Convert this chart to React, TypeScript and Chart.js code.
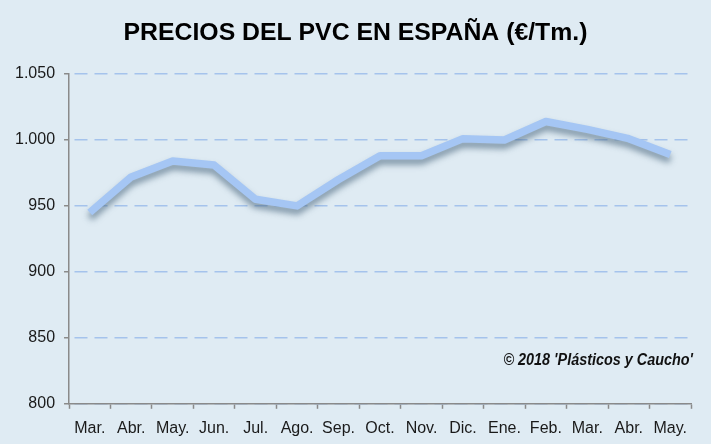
import React, { useEffect, useRef } from "react";
import Chart from "chart.js/auto";

// monthly PVC prices, Mar. 2017 - May. 2018 (€/Tm.)
const months = ["Mar.", "Abr.", "May.", "Jun.", "Jul.", "Ago.", "Sep.", "Oct.", "Nov.", "Dic.", "Ene.", "Feb.", "Mar.", "Abr.", "May."];
const prices = [945, 972, 984, 981, 955, 950, 970, 988, 988, 1001, 1000, 1014, 1008, 1001, 989];
const yTicks = [800, 850, 900, 950, 1000, 1050];

const fmt = (v: number) => v.toLocaleString("de-DE");

const shadowPlugin = {
    id: "lineShadow",
    beforeDatasetDraw(chart: any) {
        const ctx = chart.ctx;
        ctx.save();
        ctx.shadowColor = "rgba(60, 90, 115, 0.6)";
        ctx.shadowBlur = 6;
        ctx.shadowOffsetX = 0;
        ctx.shadowOffsetY = 5;
    },
    afterDatasetDraw(chart: any) {
        chart.ctx.restore();
    }
};

// title and credit line drawn by hand so they sit where the original has them
const textPlugin = {
    id: "texts",
    afterDraw(chart: any) {
        const ctx = chart.ctx;
        const area = chart.chartArea;
        ctx.save();
        ctx.fillStyle = "#000";
        ctx.textAlign = "center";
        ctx.textBaseline = "middle";
        ctx.font = "bold 24.8px 'Liberation Sans', Arial, sans-serif";
        ctx.fillText("PRECIOS DEL PVC EN ESPAÑA (€/Tm.)", chart.width / 2, 33);
        ctx.restore();

        const y = chart.scales.y.getPixelForValue(833);
        ctx.save();
        // condensed look: squeeze horizontally
        ctx.translate(area.right + 2, y);
        ctx.scale(0.9, 1);
        ctx.font = "italic bold 16px 'Liberation Sans', Arial, sans-serif";
        ctx.fillStyle = "#111";
        ctx.textAlign = "right";
        ctx.textBaseline = "middle";
        ctx.fillText("© 2018 'Plásticos y Caucho'", 0, 0);
        ctx.restore();
    }
};

const App = () => {
    const canvasRef = useRef<HTMLCanvasElement | null>(null);

    useEffect(() => {
        document.body.style.margin = "0";
        if (!canvasRef.current) return;
        const chart = new Chart(canvasRef.current, {
            type: "line",
            data: {
                labels: months,
                datasets: [
                    {
                        data: prices,
                        borderColor: "#a5c6f4",
                        borderWidth: 7.5,
                        pointRadius: 0,
                        tension: 0,
                        borderJoinStyle: "round",
                        fill: false
                    }
                ]
            },
            options: {
                animation: false,
                responsive: true,
                maintainAspectRatio: false,
                layout: { padding: { top: 74, right: 20, bottom: -4, left: 6 } },
                plugins: {
                    legend: { display: false },
                    tooltip: { enabled: false },
                    title: { display: false }
                },
                scales: {
                    x: {
                        offset: true,
                        grid: {
                            offset: true,
                            drawOnChartArea: false,
                            drawTicks: true,
                            tickLength: 5,
                            tickColor: "#8a8a8a",
                            tickWidth: 1.5
                        },
                        border: { color: "#8a8a8a", width: 1.5 },
                        ticks: {
                            color: "#1a1a1a",
                            padding: 10,
                            maxRotation: 0,
                            autoSkip: false,
                            font: { family: "'Liberation Sans', Arial, sans-serif", size: 16 }
                        }
                    },
                    y: {
                        min: 800,
                        max: 1050,
                        afterBuildTicks: (scale: any) => {
                            scale.ticks = yTicks.map((v) => ({ value: v }));
                        },
                        grid: {
                            color: "#a5c3ec",
                            lineWidth: 1.5,
                            drawTicks: true,
                            tickLength: 5,
                            tickColor: "#8a8a8a",
                            tickWidth: 1.5,
                            tickBorderDash: []
                        },
                        border: { color: "#8a8a8a", width: 1.5, dash: [13, 7], dashOffset: -5 },
                        ticks: {
                            color: "#1a1a1a",
                            padding: 9,
                            callback: (v: any) => fmt(Number(v)),
                            font: { family: "'Liberation Sans', Arial, sans-serif", size: 16 }
                        }
                    }
                }
            },
            plugins: [shadowPlugin, textPlugin]
        });
        return () => chart.destroy();
    }, []);

    return (
        <div style={{ width: 711, height: 444, background: "#dfebf3", position: "relative" }}>
            <canvas ref={canvasRef} />
        </div>
    );
};

export default App;
